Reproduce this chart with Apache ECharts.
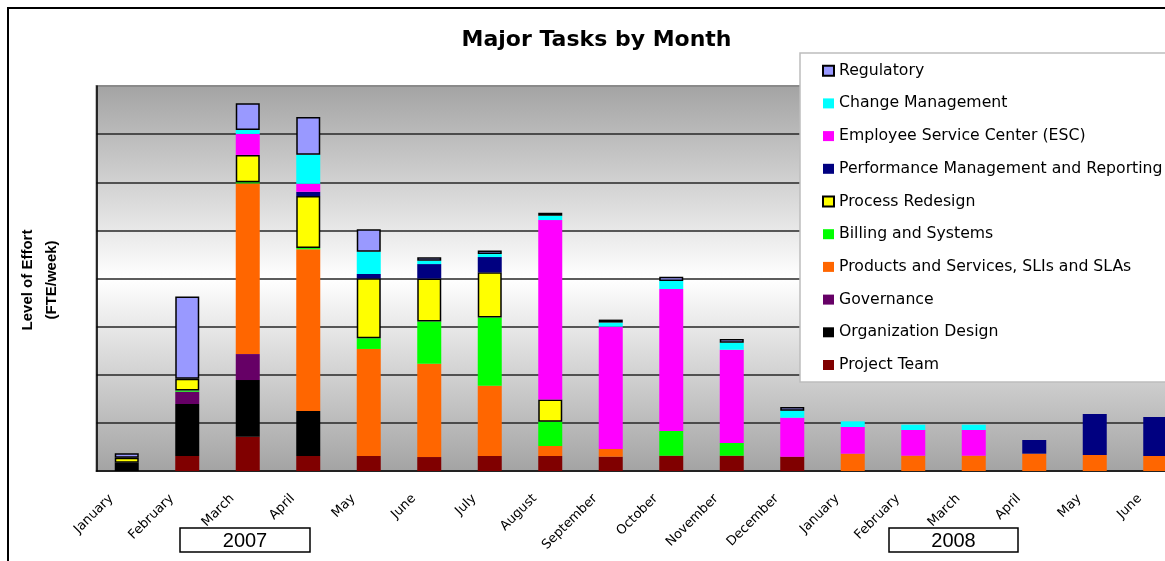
<!DOCTYPE html>
<html>
<head>
<meta charset="utf-8">
<title>Major Tasks by Month</title>
<script src="https://cdn.jsdelivr.net/npm/echarts@6.0.0/dist/echarts.min.js"></script>
<style>
  html, body { margin: 0; padding: 0; background: #fff; }
  .chart { width: 1165px; height: 561px; }
</style>
</head>
<body>
<div class="chart"></div>
<script>
var months = ['January', 'February', 'March', 'April', 'May', 'June', 'July', 'August',
  'September', 'October', 'November', 'December',
  'January', 'February', 'March', 'April', 'May', 'June'];

// FTE/week, Jan 2007 .. Jun 2008 (null = nothing that month)
var projectTeam     = [null, 1.56, 3.56, 1.56, 1.56, 1.45, 1.56, 1.56, 1.49, 1.59, 1.59, 1.49, null, null, null, null, null, null];
var orgDesign       = [0.86, 5.40, 5.89, 4.68, null, null, null, null, null, null, null, null, null, null, null, null, null, null];
var governance      = [null, 1.28, 2.70, null, null, null, null, null, null, null, null, null, null, null, null, null, null, null];
var products        = [null, null, 17.73, 16.80, 11.12, 9.69, 7.30, 1.04, 0.80, null, null, null, 1.80, 1.59, 1.59, 1.80, 1.66, 1.56];
var billing         = [null, 0.12, 0.12, 0.12, 1.11, 4.40, 7.10, 2.52, null, 2.57, 1.32, null, null, null, null, null, null, null];
var processRedesign = [0.52, 1.22, 2.84, 5.40, 6.23, 4.47, 4.68, 2.32, null, null, null, null, null, null, null, null, null, null];
var perfMgmt        = [null, null, null, 0.45, 0.45, 1.49, 1.59, null, null, null, null, null, null, null, null, 1.42, 4.26, 4.05];
var esc             = [null, null, 2.18, 0.83, null, null, null, 18.63, 12.71, 14.75, 9.69, 4.05, 2.77, 2.67, 2.67, null, null, null];
var changeMgmt      = [null, null, 0.42, 3.01, 2.32, 0.35, 0.31, 0.45, 0.42, 0.83, 0.73, 0.73, 0.59, 0.55, 0.55, null, null, null];
var regulatory      = [0.46, 8.55, 2.77, 3.92, 2.32, 0.35, 0.38, 0.31, 0.31, 0.45, 0.38, 0.38, null, null, null, null, null, null];

var years = ['2007', '2008'];

var chart = echarts.init(document.querySelector('.chart'));

function bar(name, data, color, outlined) {
  return {
    name: name,
    type: 'bar',
    stack: 'tasks',
    barWidth: 24,
    data: data,
    itemStyle: outlined
      ? { color: color, borderColor: '#000', borderWidth: 1.5 }
      : { color: color },
    emphasis: { disabled: true }
  };
}

var option = {
  backgroundColor: '#fff',
  animation: false,
  grid: {
    left: 96.5,
    right: -20.5,
    top: 86,
    bottom: 90,
    show: true,
    outerBoundsMode: 'none',
    borderColor: '#8a8a8a',
    borderWidth: 2,
    backgroundColor: new echarts.graphic.LinearGradient(0, 0, 0, 1, [
      { offset: 0, color: '#a3a3a3' },
      { offset: 0.5, color: '#ffffff' },
      { offset: 1, color: '#a3a3a3' }
    ])
  },
  legend: {
    orient: 'vertical',
    left: 822,
    top: 62.7,
    padding: 0,
    itemGap: 16.7,
    itemWidth: 11,
    itemHeight: 10,
    icon: 'rect',
    data: ['Regulatory', 'Change Management', 'Employee Service Center (ESC)',
      'Performance Management and Reporting', 'Process Redesign', 'Billing and Systems',
      'Products and Services, SLIs and SLAs', 'Governance', 'Organization Design', 'Project Team'],
    textStyle: {
      fontFamily: 'DejaVu Sans',
      fontSize: 15.7,
      lineHeight: 16,
      color: '#000'
    }
  },
  xAxis: {
    type: 'category',
    data: months,
    axisLine: { lineStyle: { color: '#000', width: 1.5 } },
    axisTick: { length: 5, lineStyle: { color: '#000', width: 1 } },
    axisLabel: {
      interval: 0,
      rotate: 45,
      margin: 10,
      // Excel puts the rotated label a little left of the bar
      padding: [0, 22, 0, 0],
      fontFamily: 'DejaVu Sans',
      fontSize: 13,
      color: '#000'
    }
  },
  yAxis: {
    type: 'value',
    min: 0,
    max: 40,
    interval: 5,
    axisLine: { show: true, lineStyle: { color: '#000', width: 1.5 } },
    axisTick: { show: false },
    axisLabel: { show: false },
    splitLine: {
      showMinLine: false,
      showMaxLine: false,
      lineStyle: { color: '#262626', width: 1.5 }
    }
  },
  graphic: [
    {
      type: 'rect', z: 100, silent: true,
      shape: { x: 8, y: 8, width: 1200, height: 600 },
      style: { fill: 'none', stroke: '#000', lineWidth: 2 }
    },
    {
      type: 'text', x: 596.5, y: 40,
      style: {
        text: 'Major Tasks by Month', fill: '#000', align: 'center', verticalAlign: 'middle',
        fontFamily: 'DejaVu Sans', fontWeight: 'bold', fontSize: 22
      }
    },
    {
      type: 'text', x: 28, y: 280, rotation: Math.PI / 2,
      style: {
        text: 'Level of Effort', fill: '#000', align: 'center', verticalAlign: 'middle',
        fontFamily: 'Liberation Sans', fontWeight: 'bold', fontSize: 15
      }
    },
    {
      type: 'text', x: 52, y: 280, rotation: Math.PI / 2,
      style: {
        text: '(FTE/week)', fill: '#000', align: 'center', verticalAlign: 'middle',
        fontFamily: 'Liberation Sans', fontWeight: 'bold', fontSize: 15
      }
    },
    // legend frame sits above the gridlines, under the legend items
    {
      type: 'rect', z: 3, silent: true,
      shape: { x: 800, y: 53, width: 400, height: 329 },
      style: { fill: '#fff', stroke: '#bdbdbd', lineWidth: 1.5 }
    },
    {
      type: 'rect', z: 5, silent: true,
      shape: { x: 180, y: 528, width: 130, height: 24 },
      style: { fill: '#fff', stroke: '#000', lineWidth: 1.5 }
    },
    {
      type: 'text', z: 6, x: 245, y: 541,
      style: {
        text: years[0], fill: '#000', align: 'center', verticalAlign: 'middle',
        fontFamily: 'Liberation Sans', fontSize: 20
      }
    },
    {
      type: 'rect', z: 5, silent: true,
      shape: { x: 889, y: 528, width: 129, height: 24 },
      style: { fill: '#fff', stroke: '#000', lineWidth: 1.5 }
    },
    {
      type: 'text', z: 6, x: 953.5, y: 541,
      style: {
        text: years[1], fill: '#000', align: 'center', verticalAlign: 'middle',
        fontFamily: 'Liberation Sans', fontSize: 20
      }
    }
  ],
  series: [
    bar('Project Team', projectTeam, '#800000'),
    bar('Organization Design', orgDesign, '#000000'),
    bar('Governance', governance, '#660066'),
    bar('Products and Services, SLIs and SLAs', products, '#ff6600'),
    bar('Billing and Systems', billing, '#00ff00'),
    bar('Process Redesign', processRedesign, '#ffff00', true),
    bar('Performance Management and Reporting', perfMgmt, '#000080'),
    bar('Employee Service Center (ESC)', esc, '#ff00ff'),
    bar('Change Management', changeMgmt, '#00ffff'),
    bar('Regulatory', regulatory, '#9999ff', true)
  ]
};

chart.setOption(option);
</script>
</body>
</html>
